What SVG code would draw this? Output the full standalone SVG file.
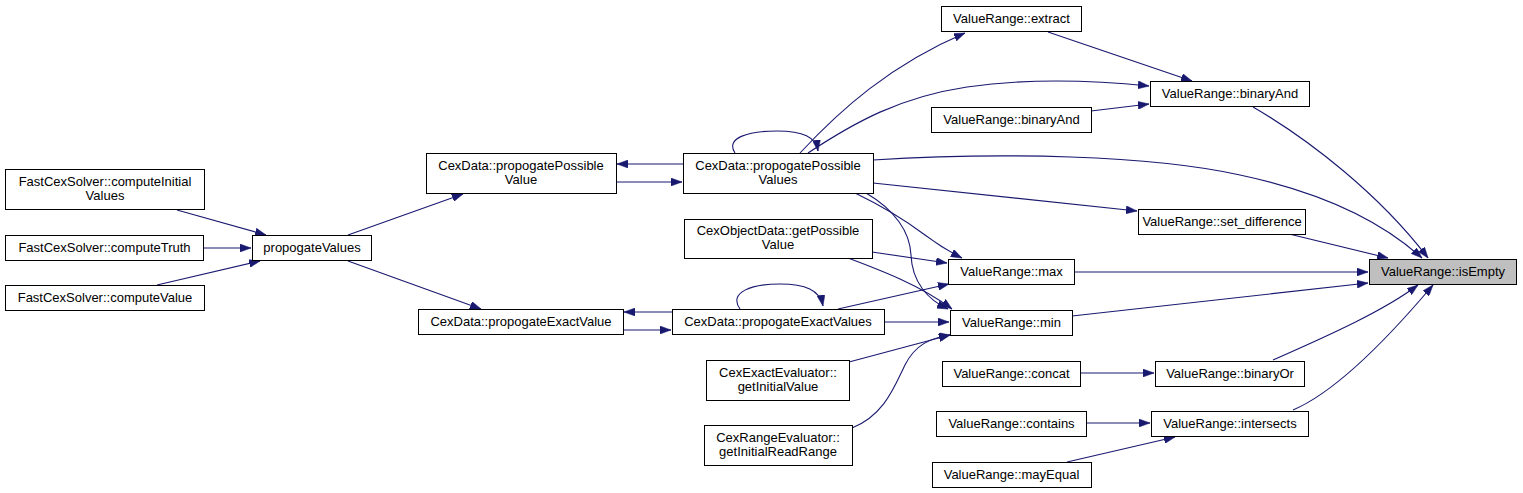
<svg xmlns="http://www.w3.org/2000/svg" width="1523" height="493" viewBox="0 0 1523 493">
<style>
.n rect{fill:#fff;stroke:#000;stroke-width:1}
.n.hl rect{fill:#bfbfbf}
.n text{font-family:"Liberation Sans",Arial,Helvetica,sans-serif;font-size:13px;fill:#000;text-anchor:middle}
#edges path{fill:none;stroke:#191970;stroke-width:1.1;marker-end:url(#ah)}
</style>
<defs>
<marker id="ah" viewBox="0 0 11 8" refX="11" refY="4" markerWidth="11" markerHeight="8" markerUnits="userSpaceOnUse" orient="auto">
<path d="M0,0 L11,4 L0,8 z" fill="#191970" stroke="#191970" stroke-width="0.5"/>
</marker>
</defs>
<rect width="1523" height="493" fill="#fff"/>
<g id="edges">
<path d="M177,210 L266,235"/>
<path d="M203,248 L251,248"/>
<path d="M157,285 L260,261"/>
<path d="M348,235 L463,194"/>
<path d="M348,261 L481,309"/>
<path d="M683,164 L617,164"/>
<path d="M616,182 L682,182"/>
<path d="M672,312 L624,312"/>
<path d="M623,330 L671,330"/>
<path d="M735,153 C725,138 748,131 777,131 C803,131 816,137 818,151"/>
<path d="M740,309 C728,292 752,284 780,284 C805,284 820,290 823,306"/>
<path d="M800,153 C840,110 890,65 965,33"/>
<path d="M808,153 C855,122 900,97 967,87 C1030,78 1090,80 1149,86"/>
<path d="M873,160 C1000,152 1150,155 1240,175 C1320,192 1380,220 1422,258"/>
<path d="M873,183 L1137,211"/>
<path d="M855,193 C880,205 905,220 925,235 C937,244 948,251 962,258"/>
<path d="M866,193 C895,210 910,232 911,255 C912,282 928,300 948,309"/>
<path d="M872,252 L947,263"/>
<path d="M848,258 C880,270 920,285 952,309"/>
<path d="M838,309 L949,284"/>
<path d="M884,322 L949,322"/>
<path d="M849,362 L950,335"/>
<path d="M852,428 C885,415 895,385 905,365 C915,345 930,338 950,335"/>
<path d="M1048,32 L1192,81"/>
<path d="M1091,111 L1149,104"/>
<path d="M1253,107 C1310,140 1380,195 1428,258"/>
<path d="M1285,233 L1388,258"/>
<path d="M1074,272 L1368,272"/>
<path d="M1072,316 L1368,283"/>
<path d="M1273,360 C1330,335 1385,310 1418,285"/>
<path d="M1293,410 C1340,390 1395,330 1433,285"/>
<path d="M1080,373 L1154,373"/>
<path d="M1086,423 L1150,423"/>
<path d="M1067,462 L1175,437"/>
</g>
<g id="n_isEmpty" class="n hl"><rect x="1369.5" y="259.5" width="147" height="25"/><text x="1443" y="276">ValueRange::isEmpty</text></g>
<g id="n_extract" class="n"><rect x="941.5" y="6.5" width="140" height="25"/><text x="1011.5" y="23">ValueRange::extract</text></g>
<g id="n_binaryAnd1" class="n"><rect x="1150.5" y="81.5" width="159" height="25"/><text x="1230" y="98">ValueRange::binaryAnd</text></g>
<g id="n_binaryAnd2" class="n"><rect x="931.5" y="107.5" width="160" height="25"/><text x="1011.5" y="124">ValueRange::binaryAnd</text></g>
<g id="n_set_difference" class="n"><rect x="1138.5" y="209.5" width="167" height="25"/><text x="1222" y="226">ValueRange::set_difference</text></g>
<g id="n_max" class="n"><rect x="948.5" y="259.5" width="126" height="25"/><text x="1011.5" y="276">ValueRange::max</text></g>
<g id="n_min" class="n"><rect x="950.5" y="310.5" width="122" height="25"/><text x="1011.5" y="327">ValueRange::min</text></g>
<g id="n_concat" class="n"><rect x="942.5" y="361.5" width="138" height="25"/><text x="1011.5" y="378">ValueRange::concat</text></g>
<g id="n_binaryOr" class="n"><rect x="1155.5" y="361.5" width="149" height="25"/><text x="1230" y="378">ValueRange::binaryOr</text></g>
<g id="n_contains" class="n"><rect x="936.5" y="411.5" width="150" height="25"/><text x="1011.5" y="428">ValueRange::contains</text></g>
<g id="n_intersects" class="n"><rect x="1151.5" y="411.5" width="157" height="25"/><text x="1230" y="428">ValueRange::intersects</text></g>
<g id="n_mayEqual" class="n"><rect x="932.5" y="462.5" width="159" height="25"/><text x="1011.5" y="479">ValueRange::mayEqual</text></g>
<g id="n_PPVs" class="n"><rect x="683.5" y="153.5" width="190" height="40"/><text x="778" y="169.5">CexData::propogatePossible</text><text x="778" y="183.5">Values</text></g>
<g id="n_PPV" class="n"><rect x="426.5" y="153.5" width="190" height="40"/><text x="521" y="169.5">CexData::propogatePossible</text><text x="521" y="183.5">Value</text></g>
<g id="n_getPossibleValue" class="n"><rect x="684.5" y="219.5" width="188" height="39"/><text x="778" y="235">CexObjectData::getPossible</text><text x="778" y="249">Value</text></g>
<g id="n_PEVs" class="n"><rect x="672.5" y="309.5" width="212" height="25"/><text x="778" y="326">CexData::propogateExactValues</text></g>
<g id="n_PEV" class="n"><rect x="418.5" y="309.5" width="205" height="25"/><text x="521" y="326">CexData::propogateExactValue</text></g>
<g id="n_CexExact" class="n"><rect x="706.5" y="360.5" width="143" height="40"/><text x="778" y="376.5">CexExactEvaluator::</text><text x="778" y="390.5">getInitialValue</text></g>
<g id="n_CexRange" class="n"><rect x="704.5" y="425.5" width="148" height="40"/><text x="778" y="441.5">CexRangeEvaluator::</text><text x="778" y="455.5">getInitialReadRange</text></g>
<g id="n_propogateValues" class="n"><rect x="252.5" y="235.5" width="119" height="25"/><text x="312" y="252">propogateValues</text></g>
<g id="n_computeInitialValues" class="n"><rect x="5.5" y="169.5" width="199" height="40"/><text x="105" y="185.5">FastCexSolver::computeInitial</text><text x="105" y="199.5">Values</text></g>
<g id="n_computeTruth" class="n"><rect x="5.5" y="235.5" width="198" height="25"/><text x="104.5" y="252">FastCexSolver::computeTruth</text></g>
<g id="n_computeValue" class="n"><rect x="5.5" y="285.5" width="199" height="25"/><text x="105" y="302">FastCexSolver::computeValue</text></g>
</svg>
